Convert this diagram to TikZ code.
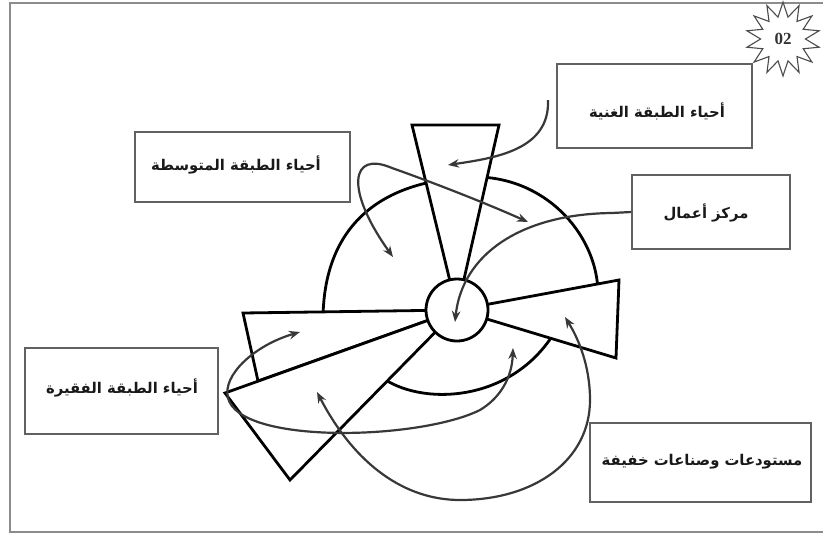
\documentclass[tikz,border=0pt]{standalone}
\usepackage{fontspec}
\newfontfamily\arabicfont[Script=Arabic,BoldFont={DejaVu Sans Bold}]{DejaVu Sans}
\newfontfamily\numfont{Liberation Serif}
\TeXXeTstate=1
\usetikzlibrary{arrows.meta,shapes.geometric}
\newcommand{\artxt}[1]{\beginR #1\endR}
\begin{document}
\begin{tikzpicture}[x=1pt,y=-1pt,
  zoneline/.style={line width=2.8pt, draw=black, line join=miter},
  zone/.style={zoneline, fill=white},
  lbl/.style={draw=black!62, line width=1.7pt, fill=white, inner sep=0pt},
  lbltext/.style={inner sep=0pt, font=\arabicfont\bfseries\fontsize{14.8}{17}\selectfont, text=black!90},
  tip/.style={-{Stealth[length=11pt,width=8.5pt]}},
  flow/.style={draw=black!78, line width=2.2pt, tip},
  flowtwo/.style={draw=black!78, line width=2.2pt, {Stealth[length=11pt,width=8.5pt]}-{Stealth[length=11pt,width=8.5pt]}},
]
\useasboundingbox (0,0) rectangle (823,536);
\fill[white] (0,0) rectangle (823,536);
% outer frame
\draw[black!45, line width=2.6pt] (823,3) -- (10,3) -- (10,532) -- (823,532);

% zone arcs (partly covered by the sectors)
\draw[zoneline] (323,318) .. controls (324,228) and (378,178) .. (480,177) .. controls (550,180) and (598,238) .. (598,294);
\draw[zoneline] (380,376) .. controls (418,406) and (512,405) .. (556,330);

% sectors
\coordinate (c) at (457,310);
\draw[zone] (412,125) -- (499,125) -- (c) -- cycle;
\draw[zone] (619,280) -- (616,358) -- (c) -- cycle;
\draw[zone] (243,313) -- (258,381) -- (c) -- cycle;
\draw[zone] (225,393) -- (290,480) -- (c) -- cycle;
\node[circle, zone, minimum size=62pt, inner sep=0pt] (cbdc) at (c) {};

% label boxes
\node[lbl, minimum width=195pt, minimum height=84pt] (rich) at (654.5,106) {};
\node[lbltext] (richt) at (657,111) {\artxt{أحياء الطبقة الغنية}};
\node[lbl, minimum width=215pt, minimum height=70pt] (mid) at (242.5,167) {};
\node[lbltext] (midt) at (236,165) {\artxt{أحياء الطبقة المتوسطة}};
\node[lbl, minimum width=158pt, minimum height=74pt] (cbd) at (711,212) {};
\node[lbltext] (cbdt) at (706,213) {\artxt{مركز أعمال}};
\node[lbl, minimum width=193pt, minimum height=86pt] (poor) at (121.5,391) {};
\node[lbltext] (poort) at (122,388) {\artxt{أحياء الطبقة الفقيرة}};
\node[lbl, minimum width=221pt, minimum height=79pt] (ware) at (700.5,462.5) {};
\node[lbltext] (waret) at (702,462) {\artxt{مستودعات وصناعات خفيفة}};

% badge
\node[star, star points=14, star point ratio=1.65, draw=black!70, fill=white, line width=1.1pt,
  minimum size=74pt, inner sep=0pt, font=\numfont\bfseries\fontsize{17}{17}\selectfont, text=black!80] (badge) at (783,39) {02};

% arrow end points
\coordinate (r0) at (548,100);
\coordinate (r1) at (448,165);
\coordinate (m0) at (393,257);
\coordinate (m1) at (528,222);
\coordinate (k1) at (455,322);
\coordinate (p0) at (300,332);
\coordinate (p1) at (513,348);
\coordinate (w0) at (317,392);
\coordinate (w1) at (565,317);

% arrows
\draw[flow] (r0) .. controls (550,150) and (495,158) .. (r1);
\draw[flowtwo] (m0) .. controls (345,190) and (350,150) .. (392,168) .. controls (440,185) and (490,205) .. (m1);
\draw[flow] (cbd.west) -- (612,213) .. controls (520,214) and (462,255) .. (k1);
\draw[flowtwo] (p0) .. controls (255,345) and (222,375) .. (228,398) .. controls (240,445) and (420,440) .. (480,410) .. controls (500,398) and (512,378) .. (p1);
\draw[flowtwo] (w0) .. controls (355,465) and (405,500) .. (460,500) .. controls (535,500) and (590,460) .. (590,400) .. controls (590,365) and (578,338) .. (w1);
\end{tikzpicture}
\end{document}
